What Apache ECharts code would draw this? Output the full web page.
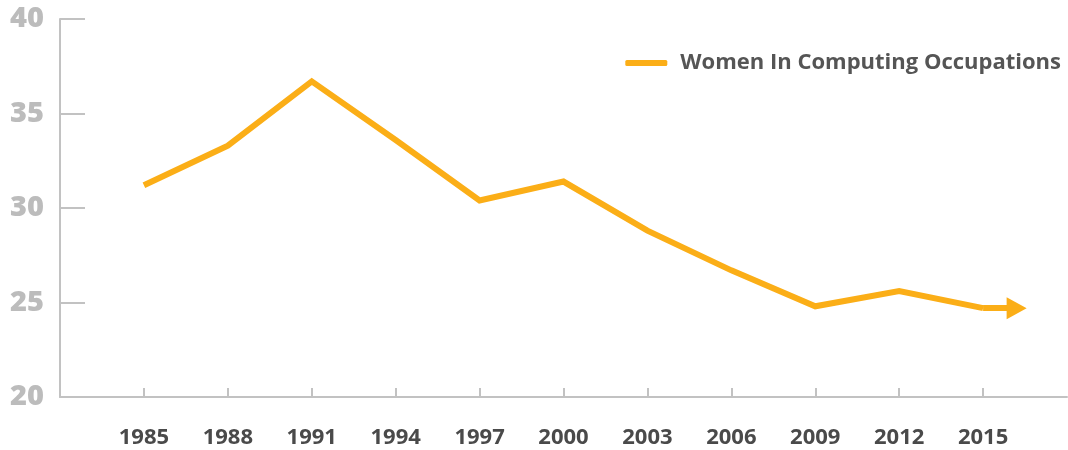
<!DOCTYPE html>
<html>
<head>
<meta charset="utf-8">
<script src="https://cdn.jsdelivr.net/npm/echarts@6/dist/echarts.min.js"></script>
<style>
  html, body { margin: 0; padding: 0; background: #fff; }
  #chart { width: 1068px; height: 450px; }
</style>
</head>
<body>
<div id="chart"></div>
<script>
// data
var years = [1985, 1988, 1991, 1994, 1997, 2000, 2003, 2006, 2009, 2012, 2015];
var womenPct = [31.2, 33.3, 36.7, 33.6, 30.4, 31.4, 28.8, 26.7, 24.8, 25.6, 24.7];
var seriesName = 'Women In Computing Occupations';
var yTicks = [20, 25, 30, 35, 40];

var orange = '#fbae17';
var axisGrey = '#c2c2c2';

var chart = echarts.init(document.getElementById('chart'));

var pts = years.map(function (y, i) { return [y, womenPct[i]]; });
var lastYear = years[years.length - 1];
var lastVal = womenPct[womenPct.length - 1];

var option = {
  animation: false,
  grid: { left: 60, right: 1, top: 19, bottom: 53 },
  legend: {
    right: 2,
    top: 47,
    itemWidth: 42,
    itemHeight: 6,
    itemGap: 10,
    icon: 'roundRect',
    textStyle: { color: '#555', fontSize: 22, fontFamily: 'Open Sans', fontWeight: 'bold', padding: [0, 0, 0, 8] },
    data: [seriesName]
  },
  xAxis: {
    type: 'value',
    min: 1982,
    max: 2018,
    interval: 3,
    splitLine: { show: false },
    axisLine: { lineStyle: { color: axisGrey, width: 2 } },
    axisTick: { inside: true, length: 9, lineStyle: { color: axisGrey, width: 2 } },
    axisLabel: {
      showMinLabel: false,
      showMaxLabel: false,
      margin: 30,
      color: '#4a4a4a',
      fontSize: 22,
      fontWeight: 'bold',
      fontFamily: 'Open Sans',
      formatter: function (v) { return years.indexOf(v) >= 0 ? String(v) : ''; }
    }
  },
  yAxis: {
    type: 'value',
    min: yTicks[0],
    max: yTicks[yTicks.length - 1],
    interval: 5,
    splitLine: { show: false },
    axisLine: { show: true, lineStyle: { color: axisGrey, width: 2 } },
    axisTick: { show: true, inside: true, length: 25, lineStyle: { color: axisGrey, width: 2 } },
    axisLabel: {
      margin: 16,
      color: '#bcbcbc',
      fontSize: 29,
      fontWeight: 800,
      fontFamily: 'Open Sans'
    }
  },
  series: [{
    name: seriesName,
    type: 'line',
    data: pts,
    symbol: 'none',
    color: orange,
    lineStyle: { color: orange, width: 6, join: 'miter' },
    markLine: {
      silent: true,
      symbol: ['none', 'triangle'],
      symbolSize: [22, 20],
      label: { show: false },
      lineStyle: { color: orange, width: 6, type: 'solid' },
      data: [[
        { coord: [lastYear, lastVal] },
        { coord: [lastYear + 1.2, lastVal] }
      ]]
    }
  }]
};

chart.setOption(option);
</script>
</body>
</html>
